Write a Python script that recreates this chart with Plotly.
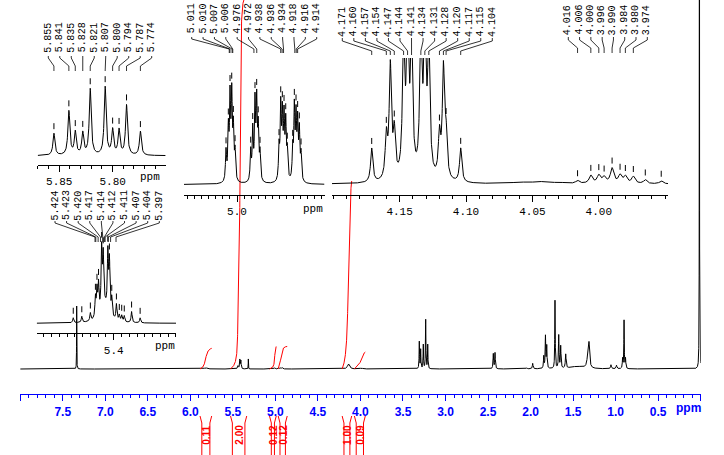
import numpy as np
import plotly.graph_objects as go

W, H = 724, 455

# ----------------------------- data -----------------------------
# main 1H spectrum: line positions (ppm), heights, half widths (ppm)
main_pos = [7.336, 5.440, 5.418, 5.406, 5.318, 5.820, 5.008, 4.960, 4.936, 4.916,
            4.140, 3.990, 3.308, 3.292, 3.261, 3.233, 3.209, 2.438, 2.418, 2.045,
            1.975, 1.845, 1.825, 1.810, 1.713, 1.669, 1.646, 1.587, 1.450, 1.330,
            1.313, 1.055, 0.990, 0.918, 0.901, 0.884, 0.015]
main_hgt = [63, 3, 9, 8, 10, 1.2, 1.2, 1.2, 1.2, 1.2,
            5, 0.8, 27, 19, 24, 49, 24, 15, 16, 1,
            5.5, 12, 32, 22, 68, 33, 22, 14, 2.5, 8,
            24, 4, 3.5, 10, 48, 10, 600]
main_hw = [0.0015, 0.006, 0.004, 0.004, 0.0015, 0.02, 0.006, 0.006, 0.006, 0.006,
           0.015, 0.02, 0.003, 0.003, 0.003, 0.003, 0.003, 0.004, 0.004, 0.006,
           0.005, 0.004, 0.004, 0.004, 0.003, 0.004, 0.004, 0.005, 0.1, 0.012,
           0.008, 0.006, 0.006, 0.004, 0.003, 0.004, 0.0015]

main_tick_vals = [8.0, 7.5, 7.0, 6.5, 6.0, 5.5, 5.0, 4.5, 4.0, 3.5, 3.0, 2.5, 2.0, 1.5, 1.0, 0.5, 0.0]
main_tick_text = ["", "7.5", "7.0", "6.5", "6.0", "5.5", "5.0", "4.5", "4.0", "3.5", "3.0",
                  "2.5", "2.0", "1.5", "1.0", "0.5", ""]

# integrals
int_start = [5.886, 5.527, 5.069, 4.967, 4.215, 4.071]
int_end = [5.749, 5.337, 4.990, 4.861, 4.103, 3.943]
int_value = [0.11, 2.00, 0.12, 0.12, 1.00, 0.09]

# inset 1 : 5.77 - 5.86
in1_pos = [5.855, 5.841, 5.835, 5.828, 5.821, 5.807, 5.800, 5.794, 5.787, 5.774]
in1_hgt = [22, 44, 23, 22, 66, 68, 25, 25, 50, 24]
in1_hw = [0.0011, 0.0011, 0.0011, 0.0011, 0.0011, 0.0011, 0.0011, 0.0011, 0.0011, 0.0011]
in1_labels = [5.855, 5.841, 5.835, 5.828, 5.821, 5.807, 5.800, 5.794, 5.787, 5.774]

# inset 2 : 4.91 - 5.02
in2_pos = [5.0156, 5.0123, 5.0099, 5.0075, 5.0052, 5.0028,
           4.9806, 4.9777, 4.9745, 4.9721, 4.9699, 4.9674,
           4.9404, 4.9380, 4.9357, 4.9333, 4.9309, 4.9287,
           4.9210, 4.9187, 4.9163, 4.9140, 4.9116, 4.9092]
in2_hgt = [30, 50, 80, 82, 50, 28, 30, 50, 76, 76, 50, 27,
           32, 72, 62, 60, 55, 28, 30, 70, 60, 55, 48, 26]
in2_hw = [0.0009, 0.0009, 0.0009, 0.0009, 0.0009, 0.0009, 0.0009, 0.0009, 0.0009, 0.0009, 0.0009, 0.0009,
          0.0009, 0.0009, 0.0009, 0.0009, 0.0009, 0.0009, 0.0009, 0.0009, 0.0009, 0.0009, 0.0009, 0.0009]
in2_labels = [5.011, 5.010, 5.007, 5.006, 4.976, 4.972, 4.938, 4.936, 4.934, 4.918, 4.916, 4.914]

# inset 3 : 3.95 - 4.20
in3_pos = [4.171, 4.160, 4.157, 4.154, 4.147, 4.144, 4.141, 4.134, 4.131, 4.128, 4.120, 4.117, 4.115, 4.104,
           4.060, 4.045, 4.030,
           4.016, 4.006, 4.000, 3.996, 3.990, 3.984, 3.980, 3.974, 3.965, 3.953]
in3_hgt = [34, 42, 112, 45, 135, 150, 140, 140, 150, 135, 42, 108, 40, 34,
           1.5, 2, 1.2,
           3, 8, 8, 6, 15, 8, 7, 7, 4, 3]
in3_hw = [0.001, 0.001, 0.001, 0.001, 0.001, 0.001, 0.001, 0.001, 0.001, 0.001, 0.001, 0.001, 0.001, 0.001,
          0.006, 0.006, 0.006,
          0.0015, 0.0015, 0.0015, 0.0015, 0.0015, 0.0015, 0.0015, 0.0015, 0.0015, 0.0015]
in3_labels_a = [4.171, 4.160, 4.157, 4.154, 4.147, 4.144, 4.141, 4.134, 4.131, 4.128, 4.120, 4.117, 4.115, 4.104]
in3_labels_b = [4.016, 4.006, 4.000, 3.996, 3.990, 3.984, 3.980, 3.974]

# inset 4 : 5.32 - 5.50
in4_pos = [5.452, 5.441, 5.430, 5.4235, 5.4215, 5.4195, 5.4155, 5.4135, 5.4075, 5.4055,
           5.4025, 5.3965, 5.3928, 5.3897, 5.3864, 5.377, 5.366, 5.412]
in4_hgt = [5, 6, 8, 20, 26, 30, 60, 50, 58, 52, 18, 16, 6, 6, 6, 11, 5, 16]
in4_hw = [0.0008, 0.0008, 0.0008, 0.0008, 0.0008, 0.0008, 0.0008, 0.0008, 0.0008, 0.0008,
          0.0008, 0.0008, 0.0008, 0.0008, 0.0008, 0.0008, 0.0008, 0.006]
in4_labels = [5.424, 5.423, 5.420, 5.417, 5.414, 5.412, 5.411, 5.407, 5.404, 5.397]

# ----------------------------- geometry (pixels) -----------------------------
MAIN = dict(px=(20.2, 700.7), rng=(8.0, 0.0), axis=394.3, base=369.0, top=0.0)
IN1 = dict(px=(37.7, 165.7), rng=(5.8702, 5.7503), axis=165.0, base=155.7, top=60.0)
IN2 = dict(px=(184.0, 324.5), rng=(5.0752, 4.8759), axis=195.0, base=184.5, top=60.0)
IN3 = dict(px=(332.0, 668.0), rng=(4.2009, 3.9479), axis=194.7, base=184.0, top=58.0)
IN4 = dict(px=(36.7, 176.0), rng=(5.4990, 5.3199), axis=333.3, base=323.3, top=232.0)
INT_PX_PER_UNIT = 188.0
BLUE = "#0000ff"
RED = "#ff0000"


def dom_x(g):
    return [g["px"][0] / W, g["px"][1] / W]


def dom_y(g):
    return [(H - g["axis"]) / H, (H - g["top"]) / H]


def rng_y(g):
    return [-(g["axis"] - g["base"]), g["base"] - g["top"]]


def px2ppm(g, px):
    (x0, x1), (r0, r1) = g["px"], g["rng"]
    return r0 + (px - x0) / (x1 - x0) * (r1 - r0)


def lor(grid, pos, hgt, hw):
    gr = np.asarray(grid, dtype=float)[:, None]
    p = np.asarray(pos, dtype=float)[None, :]
    a = np.asarray(hgt, dtype=float)[None, :]
    w = np.asarray(hw, dtype=float)[None, :]
    return (a / (1.0 + ((gr - p) / w) ** 2)).sum(axis=1)


def grid_for(g, step):
    hi, lo = max(g["rng"]), min(g["rng"])
    return np.round(np.arange(hi, lo - step / 2, -step), 5)


fig = go.Figure()

# ----------------------------- main spectrum -----------------------------
mg = np.round(np.arange(8.0, -0.00025, -0.0005), 5)
ms = lor(mg, main_pos, main_hgt, main_hw)
fig.add_trace(go.Scatter(x=mg, y=np.round(ms, 3), xaxis="x", yaxis="y", mode="lines",
                         line=dict(color="black", width=1), hoverinfo="skip"))

# integral curves (cumulative of the spectrum inside each region)
ix, iy = [], []
for a, b, v in zip(int_start, int_end, int_value):
    m = (mg <= a) & (mg >= b)
    c = np.cumsum(ms[m])
    c = c / c[-1] * v * INT_PX_PER_UNIT
    ix += list(mg[m]) + [None]
    iy += list(np.round(c, 3)) + [None]
fig.add_trace(go.Scatter(x=ix, y=iy, xaxis="x", yaxis="y", mode="lines",
                         line=dict(color=RED, width=1), hoverinfo="skip"))

# integral brackets below the axis
d = 1.8 * (MAIN["rng"][0] - MAIN["rng"][1]) / (MAIN["px"][1] - MAIN["px"][0])
bx, by = [], []
for a, b in zip(int_start, int_end):
    bx += [a, a - d, a - d, None, b, b + d, b + d, None]
    by += [416, 423, 455, None, 416, 423, 455, None]
fig.add_trace(go.Scatter(x=bx, y=by, xaxis="x", yaxis="y2", mode="lines",
                         line=dict(color=RED, width=1), hoverinfo="skip"))

annotations = []
for a, b, v in zip(int_start, int_end, int_value):
    annotations.append(dict(x=(a + b) / 2, xref="x", y=1 - 435 / H, yref="paper",
                            text=f"{v:.2f}", textangle=-90, showarrow=False,
                            xanchor="center", yanchor="middle",
                            font=dict(family="Liberation Sans", size=10, color=RED, weight="bold")))
annotations.append(dict(x=688.7 / W, y=1 - 407.7 / H, xref="paper", yref="paper", text="ppm",
                        showarrow=False, xanchor="center", yanchor="middle",
                        font=dict(family="Liberation Sans", size=12, color=BLUE, weight="bold")))

# ----------------------------- insets -----------------------------
insets = [
    dict(g=IN1, ax="3", pos=in1_pos, hgt=in1_hgt, hw=in1_hw, step=0.0002,
         tv=[5.85, 5.80], tt=["5.85", "5.80"], ppm_px=(150, 177),
         groups=[(in1_labels, 48.3, 151.7, 37.5, (56, 58, 66, 71))]),
    dict(g=IN2, ax="4", pos=in2_pos, hgt=in2_hgt, hw=in2_hw, step=0.0001,
         tv=[5.0], tt=["5.0"], ppm_px=(313.3, 209),
         groups=[(in2_labels, 191.7, 316.7, 18.5, (37, 39, 49, 53))]),
    dict(g=IN3, ax="5", pos=in3_pos, hgt=in3_hgt, hw=in3_hw, step=0.0001,
         tv=[4.15, 4.10, 4.05, 4.00], tt=["4.15", "4.10", "4.05", "4.00"], ppm_px=None,
         groups=[(in3_labels_a, 342.3, 492.3, 21.7, (38, 41, 51, 55)),
                 (in3_labels_b, 568.3, 647.3, 20.0, (37, 40, 48, 53))]),
    dict(g=IN4, ax="6", pos=in4_pos, hgt=in4_hgt, hw=in4_hw, step=0.0001,
         tv=[5.4], tt=["5.4"], ppm_px=(165, 346),
         groups=[(in4_labels, 55.0, 159.3, 205.5, (221, 223, 237, 242))]),
]

layout_axes = {}
for ins in insets:
    g, n = ins["g"], ins["ax"]
    gr = grid_for(g, ins["step"])
    sp = lor(gr, ins["pos"], ins["hgt"], ins["hw"])
    fig.add_trace(go.Scatter(x=gr, y=np.round(sp, 3), xaxis="x" + n, yaxis="y" + n, mode="lines",
                             line=dict(color="black", width=1), hoverinfo="skip"))
    # peak-pick marks
    mx, my = [], []
    for p, h, w in zip(ins["pos"], ins["hgt"], ins["hw"]):
        if w < 0.003 and h >= 3:
            yv = lor([p], ins["pos"], ins["hgt"], ins["hw"])[0]
            mx += [p, p, None]
            my += [yv + 4, yv + 10, None]
    fig.add_trace(go.Scatter(x=mx, y=my, xaxis="x" + n, yaxis="y" + n, mode="lines",
                             line=dict(color="black", width=1), hoverinfo="skip"))
    # labels and leader lines
    for vals, lx0, lx1, ly, (ya, yb, yc, yd) in ins["groups"]:
        lxs = np.linspace(lx0, lx1, len(vals))
        lx_, ly_ = [], []
        for v, lx in zip(vals, lxs):
            lp = px2ppm(g, lx)
            lx_ += [lp, lp, v, v, None]
            ly_ += [ya, yb, yc, yd, None]
            annotations.append(dict(x=lx / W, y=1 - ly / H, xref="paper", yref="paper",
                                    text=f"{v:.3f}", textangle=-90, showarrow=False,
                                    xanchor="center", yanchor="middle",
                                    font=dict(family="Liberation Mono", size=10, color="black")))
        fig.add_trace(go.Scatter(x=lx_, y=ly_, xaxis="x" + n, yaxis="y2", mode="lines",
                                 line=dict(color="black", width=0.8), hoverinfo="skip"))
    if ins["ppm_px"] is not None:
        px_, py_ = ins["ppm_px"]
        annotations.append(dict(x=px_ / W, y=1 - py_ / H, xref="paper", yref="paper", text="ppm",
                                showarrow=False, xanchor="center", yanchor="middle",
                                font=dict(family="Liberation Mono", size=11, color="black")))
    layout_axes["xaxis" + n] = dict(
        domain=dom_x(g), range=list(g["rng"]), anchor="y" + n, showline=True, linecolor="black",
        linewidth=1, ticks="outside", ticklen=6, tickwidth=1, tickcolor="black",
        tickmode="array", tickvals=ins["tv"], ticktext=ins["tt"],
        tickfont=dict(family="Liberation Mono", size=11, color="black"),
        minor=dict(tickmode="linear", tick0=0, dtick=0.01, ticks="outside", ticklen=3,
                   tickcolor="black", tickwidth=1),
        showgrid=False, zeroline=False)
    layout_axes["yaxis" + n] = dict(domain=dom_y(g), range=rng_y(g), anchor="x" + n, visible=False)

fig.update_layout(
    width=W, height=H, autosize=False,
    margin=dict(l=0, r=0, t=0, b=0, pad=0),
    paper_bgcolor="white", plot_bgcolor="rgba(0,0,0,0)",
    showlegend=False,
    xaxis=dict(domain=dom_x(MAIN), range=list(MAIN["rng"]), anchor="y", showline=True,
               linecolor=BLUE, linewidth=1, ticks="outside", ticklen=6, tickwidth=1,
               tickcolor=BLUE, tickmode="array", tickvals=main_tick_vals, ticktext=main_tick_text,
               tickfont=dict(family="Liberation Sans", size=12, color=BLUE, weight="bold"),
               minor=dict(tickmode="linear", tick0=0, dtick=0.1, ticks="outside", ticklen=3,
                          tickcolor=BLUE, tickwidth=1),
               showgrid=False, zeroline=False),
    yaxis=dict(domain=dom_y(MAIN), range=rng_y(MAIN), anchor="x", visible=False),
    yaxis2=dict(domain=[0, 1], range=[H, 0], anchor="x", visible=False),
    annotations=annotations,
    **layout_axes,
)

fig.write_html("out.html", config={"staticPlot": True},
               post_script="document.body.style.margin='0';document.body.style.overflow='hidden';")
